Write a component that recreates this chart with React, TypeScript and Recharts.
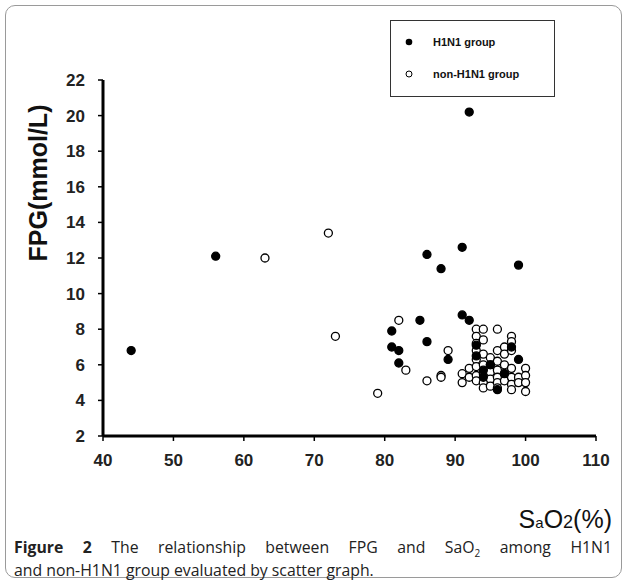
import { ScatterChart, Scatter, XAxis, YAxis, Label } from 'recharts';

// SaO2 (%) and FPG (mmol/L)
const h1n1Sao2 = [44, 56, 81, 81, 82, 82, 85, 86, 86, 88, 89, 91, 91, 92, 92, 93, 93, 94, 94, 95, 96, 97, 98, 99, 99];
const h1n1Fpg = [6.8, 12.1, 7.9, 7.0, 6.8, 6.1, 8.5, 7.3, 12.2, 11.4, 6.3, 12.6, 8.8, 8.5, 20.2, 7.1, 6.5, 5.3, 5.7, 6.0, 4.6, 5.5, 7.0, 6.3, 11.6];

const nonSao2 = [
  63, 72, 73, 79, 82, 83, 86, 88, 88, 89, 91, 91, 92, 92,
  93, 93, 93, 93, 93, 93, 93, 93,
  94, 94, 94, 94, 94, 94, 94,
  95, 95, 95, 95, 95,
  96, 96, 96, 96, 96, 96, 96,
  97, 97, 97, 97, 97,
  98, 98, 98, 98, 98, 98, 98,
  99, 99,
  100, 100, 100, 100,
];
const nonFpg = [
  12.0, 13.4, 7.6, 4.4, 8.5, 5.7, 5.1, 5.4, 5.3, 6.8, 5.5, 5.0, 5.8, 5.3,
  8.0, 7.6, 7.2, 6.8, 6.3, 5.9, 5.4, 5.1,
  8.0, 7.4, 6.6, 6.0, 5.5, 5.0, 4.7,
  6.4, 6.0, 5.6, 5.2, 4.8,
  8.0, 6.8, 6.2, 5.7, 5.3, 5.0, 4.7,
  7.0, 6.6, 6.0, 5.5, 5.1,
  7.6, 7.3, 6.8, 5.8, 5.3, 4.9, 4.6,
  5.3, 5.0,
  5.8, 5.4, 5.0, 4.5,
];

const xTicks = [40, 50, 60, 70, 80, 90, 100, 110];
const yTicks = [2, 4, 6, 8, 10, 12, 14, 16, 18, 20, 22];

const h1n1 = h1n1Sao2.map((x, i) => ({ x, y: h1n1Fpg[i] }));
const nonH1n1 = nonSao2.map((x, i) => ({ x, y: nonFpg[i] }));

const font = 'Arial, "Liberation Sans", sans-serif';

const Dot = (filled: boolean) => (p: any) => (
  <circle cx={p.cx} cy={p.cy} r={4} fill={filled ? '#000' : '#fff'} stroke="#000" strokeWidth={1.3} />
);

function LegendBox() {
  return (
    <div style={{ position: 'absolute', left: 390, top: 20, width: 165, height: 77, border: '1.5px solid #333', background: '#fff', fontFamily: font, fontWeight: 'bold', fontSize: 11, color: '#111', boxSizing: 'border-box' }}>
      <div style={{ position: 'absolute', left: 14, top: 15, display: 'flex', alignItems: 'center' }}>
        <svg width={8} height={8}><circle cx={4} cy={4} r={3.3} fill="#000" /></svg>
        <span style={{ marginLeft: 20 }}>H1N1 group</span>
      </div>
      <div style={{ position: 'absolute', left: 14, top: 47, display: 'flex', alignItems: 'center' }}>
        <svg width={8} height={8}><circle cx={4} cy={4} r={3} fill="#fff" stroke="#000" strokeWidth={1} /></svg>
        <span style={{ marginLeft: 20 }}>non-H1N1 group</span>
      </div>
    </div>
  );
}

export default function App() {
  return (
    <div style={{ position: 'absolute', left: 0, top: 0, width: 627, height: 583, background: '#fff' }}>
      <div style={{ position: 'absolute', left: 5, top: 5, width: 615, height: 571, border: '1.5px solid #9a9a9a', borderRadius: 10 }} />
      <div style={{ position: 'absolute', left: 0, top: 0 }}>
        <ScatterChart width={627} height={540} margin={{ top: 80, right: 31, left: 10, bottom: 0 }}>
          <XAxis
            type="number"
            dataKey="x"
            domain={[40, 110]}
            ticks={xTicks}
            height={104}
            axisLine={{ stroke: '#000', strokeWidth: 3 }}
            tickLine={{ stroke: '#000', strokeWidth: 1.5 }}
            tickSize={5}
            tickMargin={13}
            tick={{ fontSize: 17, fontWeight: 'bold', fill: '#222', fontFamily: font }}
          >
            <Label
              content={(props: any) => {
                const vb = props.viewBox;
                return (
                  <text x={vb.x + vb.width + 16} y={vb.y + 92} textAnchor="end" fontFamily={font} fontSize={25} fill="#111">
                    <tspan>S</tspan>
                    <tspan fontSize={15}>a</tspan>
                    <tspan>O</tspan>
                    <tspan fontSize={18}>2</tspan>
                    <tspan>(%)</tspan>
                  </text>
                );
              }}
            />
          </XAxis>
          <YAxis
            type="number"
            dataKey="y"
            domain={[2, 22]}
            ticks={yTicks}
            width={93}
            axisLine={{ stroke: '#000', strokeWidth: 3 }}
            tickLine={{ stroke: '#000', strokeWidth: 1.5 }}
            tickSize={5}
            tickMargin={13}
            tick={{ fontSize: 17, fontWeight: 'bold', fill: '#222', fontFamily: font }}
          >
            <Label
              content={(props: any) => {
                const vb = props.viewBox;
                const cx = vb.x + 37;
                const cy = 183;
                return (
                  <text x={cx} y={cy} transform={`rotate(-90 ${cx} ${cy})`} textAnchor="middle" fontFamily={font} fontWeight="bold" fontSize={25} fill="#111">
                    FPG(mmol/L)
                  </text>
                );
              }}
            />
          </YAxis>
          <Scatter name="non-H1N1 group" data={nonH1n1} shape={Dot(false)} isAnimationActive={false} />
          <Scatter name="H1N1 group" data={h1n1} shape={Dot(true)} isAnimationActive={false} />
        </ScatterChart>
      </div>
      <LegendBox />
      <div style={{ position: 'absolute', left: 14, top: 536, width: 598, fontFamily: '"Open Sans", sans-serif', fontSize: 15.8, lineHeight: '23px', color: '#222' }}>
        <div style={{ textAlign: 'justify', textAlignLast: 'justify' as any }}>
          <b>Figure 2</b> The relationship between FPG and SaO<sub style={{ fontSize: 10, lineHeight: 0 }}>2</sub> among H1N1
        </div>
        <div>and non-H1N1 group evaluated by scatter graph.</div>
      </div>
    </div>
  );
}
